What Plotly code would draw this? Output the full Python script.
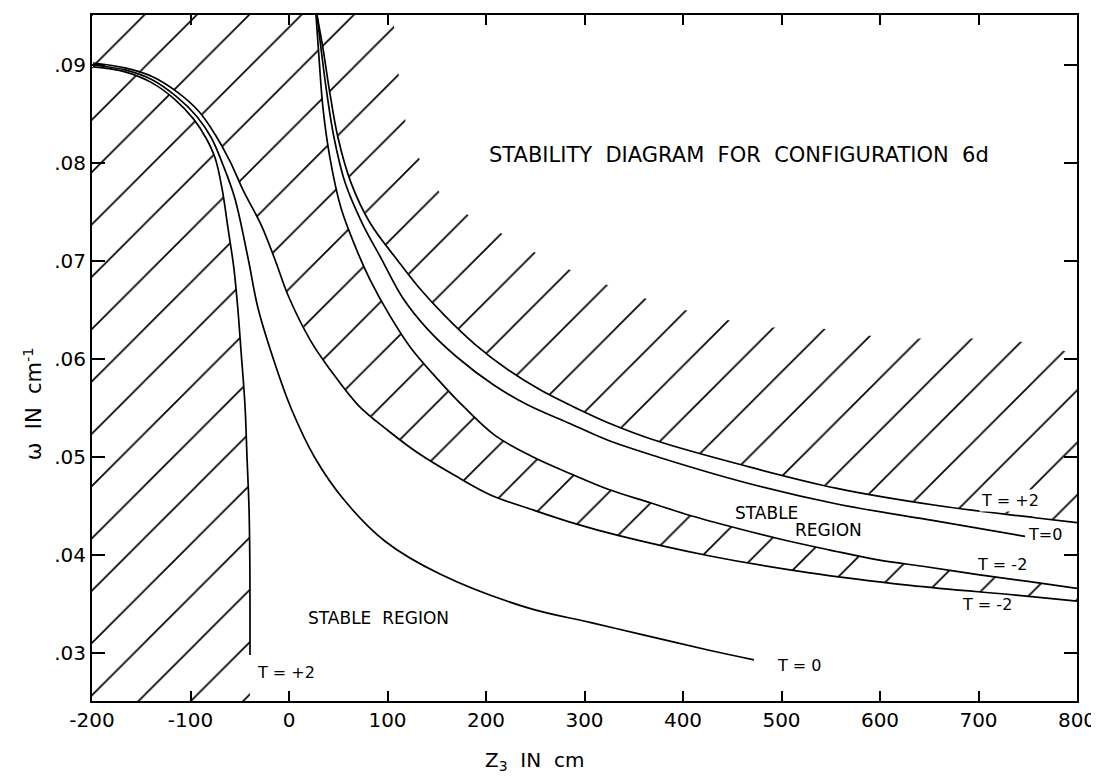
import plotly.graph_objects as go

# ---------------- data ----------------
x_tick_vals = [-200, -100, 0, 100, 200, 300, 400, 500, 600, 700, 800]
x_tick_text = ["-200", "-100", "0", "100", "200", "300", "400", "500", "600", "700", "800"]
y_tick_vals = [0.03, 0.04, 0.05, 0.06, 0.07, 0.08, 0.09]
y_tick_text = [".03", ".04", ".05", ".06", ".07", ".08", ".09"]

x_range = [-200, 800]
y_range = [0.0251, 0.0951]

# left family (start at the left axis near .090)
t2_left_x = [-199, -166.5, -139.5, -116, -97, -84, -75, -68, -62, -56, -52, -48.7, -44.7,
             -42.6, -40.6, -39.8, -39.6, -39.6]
t2_left_y = [0.0898, 0.0893, 0.0882, 0.0865, 0.0845, 0.0825, 0.0805, 0.0774, 0.0734, 0.0693,
             0.0652, 0.0608, 0.0553, 0.0499, 0.0448, 0.0397, 0.0346, 0.0298]

t0_left_x = [-199, -166.5, -139, -114.5, -94, -79, -67, -55, -41.6, -31.5, -16.2, 2, 26.4,
             56.9, 97.5, 154.3, 242.6, 306.6, 357.4, 425.4, 472]
t0_left_y = [0.0900, 0.0895, 0.0885, 0.0868, 0.0848, 0.0826, 0.0798, 0.0764, 0.0703, 0.0652,
             0.0601, 0.0550, 0.0499, 0.0455, 0.0414, 0.0380, 0.0346, 0.0331, 0.0319, 0.0303,
             0.0293]

tm2_lower_x = [-199, -166.5, -138.5, -113, -91, -75, -60, -46, -28.4, -13, -1, 22.3, 42.6,
               70.1, 100.5, 131, 168.5, 205.1, 247.7, 290.4, 334, 427.4, 526.9, 630.5, 738.1, 800]
tm2_lower_y = [0.0902, 0.0897, 0.0888, 0.0872, 0.0852, 0.0829, 0.0802, 0.0771, 0.0737, 0.0698,
               0.0665, 0.0618, 0.0588, 0.0553, 0.0527, 0.0504, 0.0481, 0.0461, 0.0446, 0.0432,
               0.0420, 0.0399, 0.0382, 0.0369, 0.0359, 0.0353]

# right family (start at the top axis near z = 28)
tm2_upper_x = [27.4, 30.5, 34.5, 41.6, 52.8, 68.0, 82.2, 102.5, 123.9, 151.3, 178.7, 209.1,
               245.7, 283.2, 323.9, 367.5, 408.1, 455.8, 503.6, 549.2, 598.0, 646.7, 699.5,
               750.3, 800]
tm2_upper_y = [0.0951, 0.0907, 0.0856, 0.0805, 0.0754, 0.0713, 0.0681, 0.0644, 0.0611, 0.0579,
               0.0550, 0.0522, 0.0501, 0.0484, 0.0467, 0.0453, 0.0440, 0.0427, 0.0415, 0.0405,
               0.0395, 0.0388, 0.0380, 0.0373, 0.0366]

t0_right_x = [28.4, 32.5, 37.6, 45.7, 56.9, 74.1, 93.4, 115.7, 141.1, 171.6, 207.1, 242.6,
              283.2, 323.9, 374.6, 462.9, 556.3, 654.8, 747.2]
t0_right_y = [0.0951, 0.0917, 0.0877, 0.0826, 0.0780, 0.0739, 0.0703, 0.0662, 0.0630, 0.0601,
              0.0574, 0.0553, 0.0535, 0.0517, 0.0500, 0.0474, 0.0452, 0.0435, 0.0419]

t2_right_x = [28.4, 34.5, 40.6, 49.7, 62.9, 82.2, 110.7, 131.0, 158.4, 188.8, 222.3, 255.8,
              293.4, 323.9, 374.6, 462.9, 556.3, 654.8, 757.4, 800]
t2_right_y = [0.0951, 0.0917, 0.0877, 0.0826, 0.0780, 0.0739, 0.0700, 0.0674, 0.0644, 0.0615,
              0.0589, 0.0568, 0.0549, 0.0535, 0.0516, 0.0491, 0.0468, 0.0451, 0.0438, 0.0433]

# upper limit of the hatching above the T=+2 curve (ragged edge)
hatch_top_x = [800, 750.3, 696.4, 637.6, 585.8, 535.0, 478.2, 432.5, 388.8, 345.2, 301.5,
               262.9, 227.4, 190.9, 157.4, 135.0, 118.8, 111.7, 105.6]
hatch_top_y = [0.0605, 0.0617, 0.0621, 0.0621, 0.0624, 0.0632, 0.0632, 0.0643, 0.0653, 0.0667,
               0.0684, 0.0701, 0.0722, 0.0741, 0.0763, 0.0798, 0.0839, 0.0887, 0.0951]

FONT = "DejaVu Sans"

fig = go.Figure()

# ---------------- hatched (unstable) regions ----------------
x_lo, x_hi = x_range[0] - 5, x_range[1] + 5
y_lo, y_hi = y_range[0] - 0.001, y_range[1] + 0.002


def hatch(xs, ys):
    fig.add_trace(go.Scatter(
        x=xs, y=ys, mode="lines", fill="toself",
        line=dict(width=0, color="rgba(0,0,0,0)"),
        fillcolor="rgba(0,0,0,0)",
        fillpattern=dict(shape="/", size=37, solidity=0.045, fgcolor="black",
                         bgcolor="rgba(0,0,0,0)", fgopacity=1),
        hoverinfo="skip", showlegend=False))


# left of the T=+2 (left) curve
hatch([x_lo] + t2_left_x + [t2_left_x[-1], x_lo],
      [t2_left_y[0]] + t2_left_y + [y_lo, y_lo])

# region above the left family and below / left of the right T=-2 curve
hatch([x_lo, x_lo, tm2_upper_x[0]] + tm2_upper_x + [x_hi, x_hi] + tm2_lower_x[::-1] + [x_lo],
      [tm2_lower_y[0], y_hi, y_hi] + tm2_upper_y + [tm2_upper_y[-1], tm2_lower_y[-1]]
      + tm2_lower_y[::-1] + [tm2_lower_y[0]])

# region above the right T=+2 curve
hatch([t2_right_x[0], t2_right_x[0]] + t2_right_x + [x_hi, x_hi] + hatch_top_x + [hatch_top_x[-1]],
      [y_hi, t2_right_y[0]] + t2_right_y + [t2_right_y[-1], hatch_top_y[0]] + hatch_top_y + [y_hi])

# ---------------- curves ----------------
for xs, ys in [(t2_left_x, t2_left_y), (t0_left_x, t0_left_y), (tm2_lower_x, tm2_lower_y),
               (tm2_upper_x, tm2_upper_y), (t0_right_x, t0_right_y), (t2_right_x, t2_right_y)]:
    fig.add_trace(go.Scatter(x=xs, y=ys, mode="lines",
                             line=dict(color="black", width=1.7, shape="spline", smoothing=1.0),
                             hoverinfo="skip", showlegend=False))

# ---------------- labels ----------------
labels = [
    ("T = +2", -35, 0.0280, 16, None),
    ("T = 0", 493, 0.0287, 16, None),
    ("T = +2", 700, 0.0456, 16, "white"),
    ("T=0", 748, 0.0421, 16, None),
    ("T = -2", 696, 0.0390, 16, None),
    ("T = -2", 681, 0.0349, 16, None),
    ("STABLE", 451, 0.0443, 17, None),
    ("REGION", 512, 0.0426, 17, None),
    ("STABLE\u00a0\u00a0REGION", 17, 0.0336, 17, None),
]
for txt, lx, ly, fs, bg in labels:
    fig.add_annotation(x=lx, y=ly, text=txt, showarrow=False, xanchor="left", yanchor="middle",
                       font=dict(family=FONT, size=fs, color="black"),
                       bgcolor=bg if bg else "rgba(0,0,0,0)", borderpad=1)

fig.add_annotation(x=457, y=0.0808,
                   text="STABILITY\u00a0\u00a0DIAGRAM\u00a0\u00a0FOR\u00a0\u00a0CONFIGURATION\u00a0\u00a06d",
                   showarrow=False, xanchor="center", yanchor="middle",
                   font=dict(family=FONT, size=21, color="black"))

# axis titles
fig.add_annotation(xref="paper", yref="paper", x=0.4497, y=-0.088,
                   text="Z<sub>3</sub>\u00a0 IN\u00a0 cm", showarrow=False,
                   xanchor="center", yanchor="middle",
                   font=dict(family=FONT, size=20, color="black"))
fig.add_annotation(xref="paper", yref="paper", x=-0.060, y=0.434,
                   text="ω\u00a0 IN\u00a0 cm<sup>-1</sup>", showarrow=False, textangle=-90,
                   xanchor="center", yanchor="middle",
                   font=dict(family=FONT, size=21, color="black"))

axis_common = dict(showline=True, linecolor="black", linewidth=2, mirror="ticks",
                   ticks="inside", tickcolor="black", tickwidth=2, showgrid=False,
                   zeroline=False, automargin=False,
                   tickfont=dict(family=FONT, size=20, color="black"))

fig.update_xaxes(range=x_range, tickvals=x_tick_vals, ticktext=x_tick_text, ticklen=10,
                 **axis_common)
fig.update_yaxes(range=y_range, tickvals=y_tick_vals, ticktext=y_tick_text, ticklen=13,
                 **axis_common)

fig.update_layout(width=1099, height=777,
                  margin=dict(l=84, r=30, t=7, b=84, autoexpand=False),
                  paper_bgcolor="white", plot_bgcolor="white", showlegend=False)

fig.write_html("out.html")
